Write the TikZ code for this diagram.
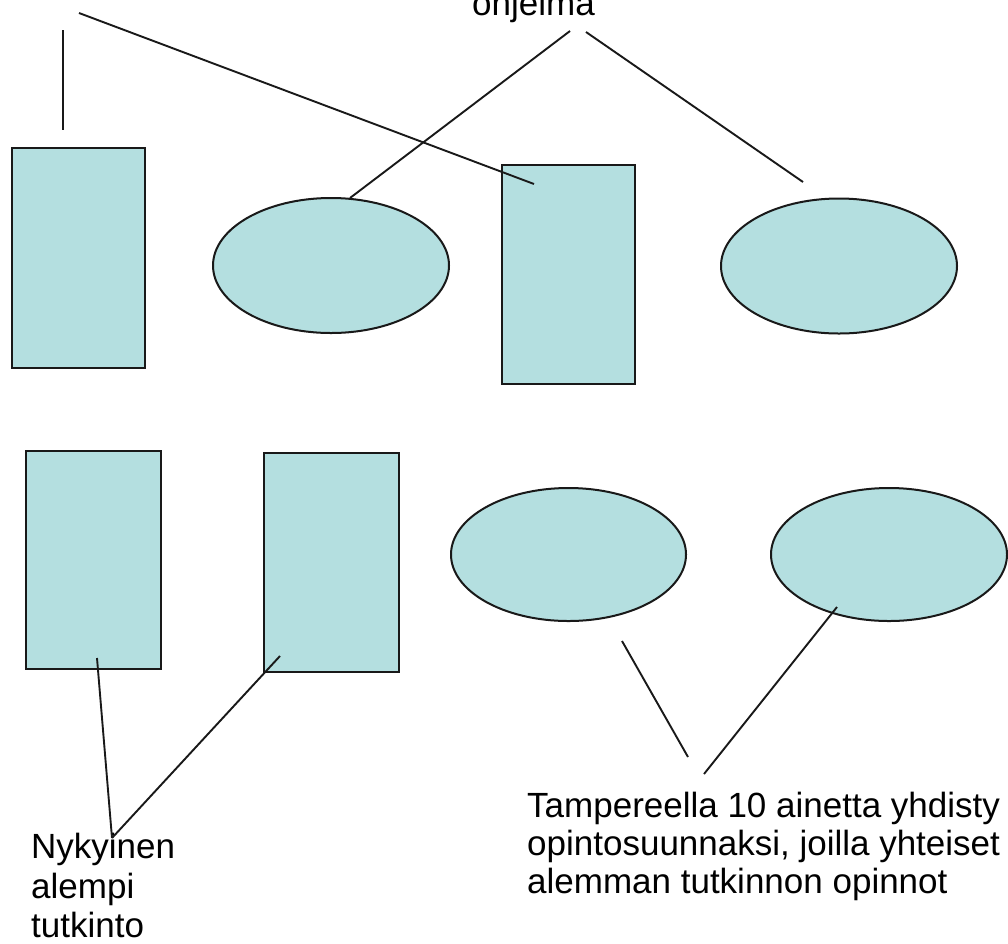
\documentclass[tikz,border=0pt]{standalone}
\usepackage{fontspec}
\setmainfont{Liberation Sans}
\usetikzlibrary{shapes.geometric}
\definecolor{boxfill}{RGB}{180,223,224}
\definecolor{edge}{RGB}{25,25,25}
\tikzset{
  box/.style={draw=edge, fill=boxfill, line width=2.4pt, inner sep=0pt, rectangle},
  ell/.style={draw=edge, fill=boxfill, line width=2pt, inner sep=0pt, ellipse, minimum width=236pt, minimum height=135pt},
  conn/.style={draw=edge, line width=1.9pt},
  lbl/.style={font=\fontsize{35}{38}\selectfont, inner sep=0pt, anchor=base west, text=black}
}
\begin{document}
\begin{tikzpicture}[x=1pt,y=-1pt]
\useasboundingbox (0,0) rectangle (1008,943);
\clip (0,0) rectangle (1008,943);
\fill[white] (0,0) rectangle (1008,943);
% shapes
\node[box, minimum width=133pt, minimum height=220pt] (A) at (78.5,258) {};
\node[ell] (B) at (331,265.5) {};
\node[box, minimum width=133pt, minimum height=219pt] (C) at (568.5,274.5) {};
\node[ell] (D) at (839,266) {};
\node[box, minimum width=135pt, minimum height=218pt] (E) at (93.5,560) {};
\node[box, minimum width=135pt, minimum height=219pt] (F) at (331.5,562.5) {};
\node[ell, minimum width=235pt, minimum height=133pt] (G) at (568.5,554.5) {};
\node[ell, minimum width=236pt, minimum height=133pt] (H) at (889,554.5) {};
% labels
\node[lbl] (ohj) at (472,15) {ohjelma};
\node[lbl] (t1) at (527,817) {Tampereella 10 ainetta yhdisty};
\node[lbl] (t2) at (527,855) {opintosuunnaksi, joilla yhteiset};
\node[lbl] (t3) at (527,893) {alemman tutkinnon opinnot};
\node[lbl] (n1) at (31,858) {Nykyinen};
\node[lbl] (n2) at (31,898) {alempi};
\node[lbl] (n3) at (31,937) {tutkinto};
% connector end points
\coordinate (v0) at (63,30);
\coordinate (v1) at (63,130);
\coordinate (d0) at (79,13);
\coordinate (d1) at (534,184);
\coordinate (o1) at (570,31);
\coordinate (o2) at (586,32);
\coordinate (bB) at (350,198);
\coordinate (bD) at (803,182);
\coordinate (eE) at (97,658);
\coordinate (eF) at (280,656);
\coordinate (nk) at (112,838);
\coordinate (gG) at (622,641);
\coordinate (g1) at (688,757);
\coordinate (hH) at (837,607);
\coordinate (h1) at (704,774);
% connectors
\draw[conn] (v0) -- (v1);
\draw[conn] (d0) -- (d1);
\draw[conn] (o1) -- (bB);
\draw[conn] (o2) -- (bD);
\draw[conn] (eE) -- (nk);
\draw[conn] (eF) -- (nk);
\draw[conn] (gG) -- (g1);
\draw[conn] (hH) -- (h1);
\end{tikzpicture}
\end{document}
